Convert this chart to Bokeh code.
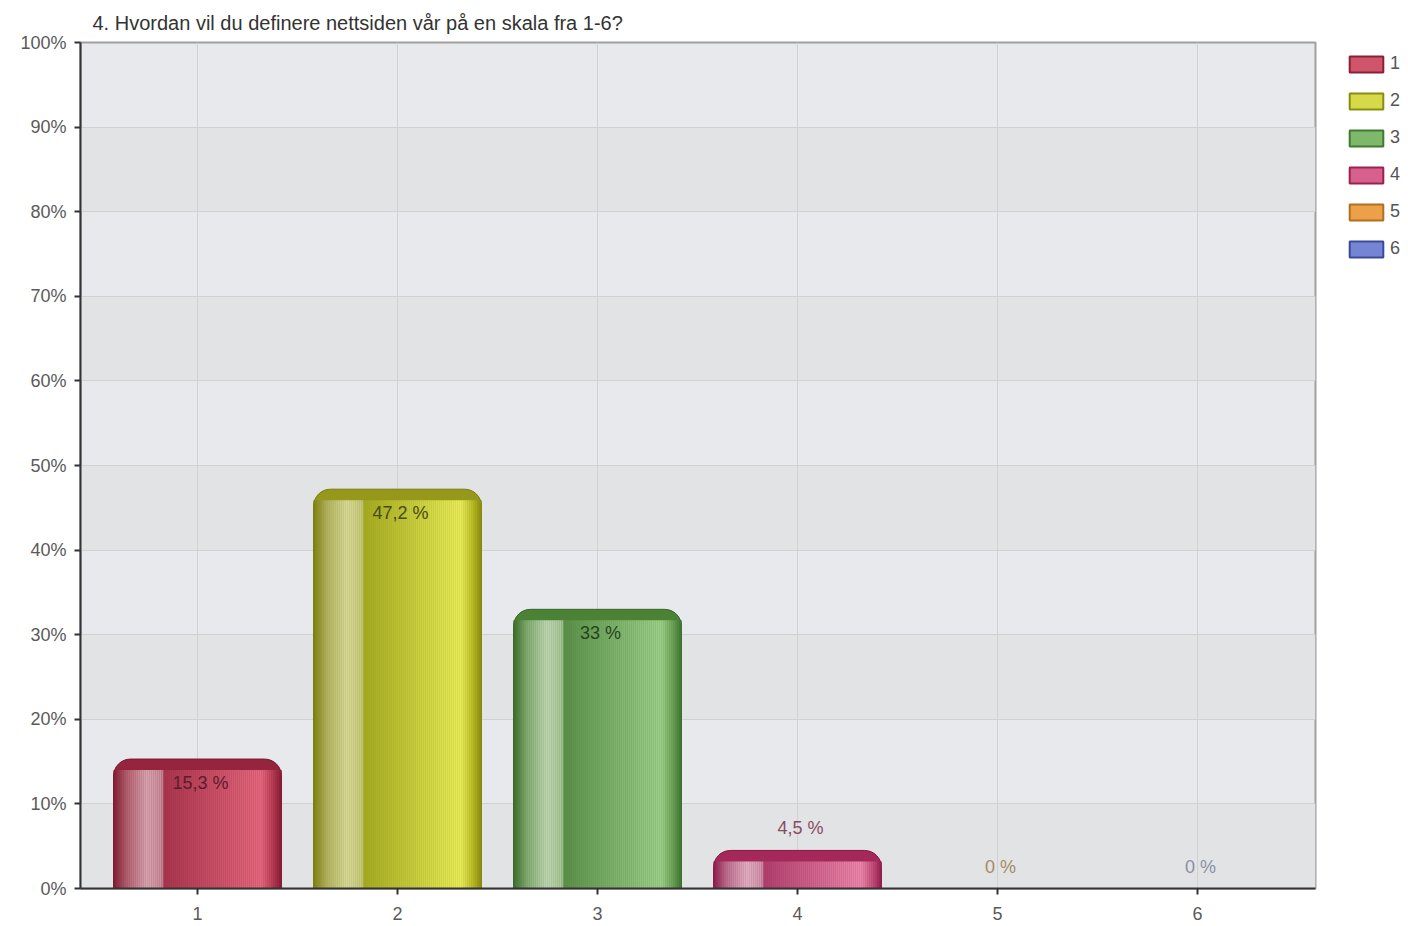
from bokeh.plotting import figure
from bokeh.layouts import row
from bokeh.models import Range1d, FixedTicker, PrintfTickFormatter, Legend, LegendItem, ColumnDataSource
from bokeh.core.properties import value
from bokeh.embed import file_html
from bokeh.resources import INLINE

# ---- data ----
TITLE = "4. Hvordan vil du definere nettsiden vår på en skala fra 1-6?"
CATEGORIES = ["1", "2", "3", "4", "5", "6"]
X_POS = [1, 2, 3, 4, 5, 6]
PERCENTS = [15.3, 47.2, 33.0, 4.5, 0.0, 0.0]
Y_TICKS = [0, 10, 20, 30, 40, 50, 60, 70, 80, 90, 100]

# ---- styles ----
FONT = "Liberation Sans"
GRADIENTS = [
    [(0.0, "#7e1a30"), (0.08, "#b0606f"), (0.2, "#d6a6b1"), (0.29, "#c48a97"), (0.30, "#a6344c"),
     (0.88, "#e4687e"), (0.95, "#b43a52"), (1.0, "#861a32")],
    [(0.0, "#7c7c0e"), (0.08, "#b0b060"), (0.2, "#d6d898"), (0.29, "#c4c67c"), (0.30, "#a2a820"),
     (0.88, "#e8ec58"), (0.95, "#b6b824"), (1.0, "#86880e")],
    [(0.0, "#3a6a28"), (0.08, "#80a870"), (0.2, "#c0d6b4"), (0.29, "#a6c496"), (0.30, "#5a8e48"),
     (0.88, "#9cd08a"), (0.95, "#6a9e54"), (1.0, "#3c7230")],
    [(0.0, "#8a1846"), (0.08, "#b8708e"), (0.2, "#e0b2c2"), (0.29, "#cc90a8"), (0.30, "#ae3e6c"),
     (0.88, "#ea88aa"), (0.95, "#c04c78"), (1.0, "#921c4c")],
    [(0.0, "#b06818"), (0.2, "#f0c890"), (0.3, "#d88a30"), (0.88, "#f4b060"), (1.0, "#b06818")],
    [(0.0, "#3a4a9a"), (0.2, "#b8c0e8"), (0.3, "#5a6ac0"), (0.88, "#8a98e0"), (1.0, "#3a4a9a")],
]
RIM_COLORS = ["#95253d", "#95981a", "#4c8236", "#a4285a", "#c07828", "#4a5ab0"]
EDGE_COLORS = ["#7a1a2e", "#7a7c0e", "#386628", "#861644", "#a06010", "#34449a"]
LEGEND_FILL = ["#d0546a", "#d6da48", "#7eb86a", "#d8608c", "#eca04a", "#7684d4"]
LEGEND_LINE = ["#8a1f36", "#8a8c10", "#3f7a30", "#9c2050", "#b07020", "#3a4a9a"]
LABEL_COLORS = ["#5a1c2b", "#4a4a12", "#24441c", "#8a4a64", "#a48c64", "#8a90a8"]

BAR_W = 0.84
PX_PER_UNIT_Y = 846 / 100.0
RIM = 11 / PX_PER_UNIT_Y
N_STRIPS = 84


def hex2rgb(h):
    h = h.lstrip("#")
    return tuple(int(h[i:i + 2], 16) for i in (0, 2, 4))


def grad_color(stops, t):
    for (p0, c0), (p1, c1) in zip(stops[:-1], stops[1:]):
        if p0 <= t <= p1:
            f = 0 if p1 == p0 else (t - p0) / (p1 - p0)
            a, b = hex2rgb(c0), hex2rgb(c1)
            return "#%02x%02x%02x" % tuple(int(round(a[k] + (b[k] - a[k]) * f)) for k in range(3))
    return stops[-1][1]


p = figure(width=1317, height=926, output_backend="svg", toolbar_location=None,
           x_range=Range1d(0.415, 6.59), y_range=Range1d(0, 100),
           min_border_left=80, min_border_right=2, min_border_top=42, min_border_bottom=38,
           background_fill_color="#e7e9ec", border_fill_color="white")

p.title.text = TITLE
p.title.text_font = FONT
p.title.text_font_size = "20px"
p.title.text_font_style = "normal"
p.title.text_color = "#333333"
p.title.align = "left"
p.title.offset = 12
p.title.standoff = 17

p.outline_line_color = "#a0a0a0"
p.outline_line_width = 2

# alternating background bands (drawn beneath the grid lines)
band_bottom = Y_TICKS[0:-1:2]
band_top = Y_TICKS[1::2]
p.quad(left=0.415, right=6.59, bottom=band_bottom, top=band_top,
       fill_color="#e2e3e5", line_color=None, level="image")

# grid
p.ygrid.ticker = FixedTicker(ticks=Y_TICKS)
p.ygrid.grid_line_color = "#d0d1d3"
p.xgrid.ticker = FixedTicker(ticks=X_POS)
p.xgrid.grid_line_color = "#d0d1d3"

# axes
p.yaxis.ticker = FixedTicker(ticks=Y_TICKS)
p.yaxis.formatter = PrintfTickFormatter(format="%d%%")
p.xaxis.ticker = FixedTicker(ticks=X_POS)
p.xaxis.major_label_overrides = {x: c for x, c in zip(X_POS, CATEGORIES)}
for ax in (p.xaxis, p.yaxis):
    ax.axis_line_color = "#333333"
    ax.axis_line_width = 2
    ax.major_tick_line_color = "#333333"
    ax.major_tick_line_width = 2
    ax.major_tick_out = 6
    ax.major_tick_in = 0
    ax.minor_tick_line_color = None
    ax.major_label_text_font = FONT
    ax.major_label_text_font_size = "18px"
    ax.major_label_text_color = "#5a5a5a"
p.yaxis.major_label_standoff = 8
p.xaxis.major_label_standoff = 12

# bars: rounded outer shape
for i, (x, v) in enumerate(zip(X_POS, PERCENTS)):
    if v <= 0:
        continue
    p.vbar(x=[x], top=[v], bottom=0, width=BAR_W, fill_color=RIM_COLORS[i],
           line_color=EDGE_COLORS[i], line_width=1, border_radius=(17, 17, 0, 0))

# bars: horizontal gradient strips below the rim
lefts, rights, tops, bottoms, colors = [], [], [], [], []
sw = BAR_W / N_STRIPS
for i, (x, v) in enumerate(zip(X_POS, PERCENTS)):
    top = v - RIM
    if top <= 0:
        continue
    x0 = x - BAR_W / 2
    for k in range(N_STRIPS):
        t = (k + 0.5) / N_STRIPS
        lefts.append(x0 + k * sw)
        rights.append(x0 + (k + 1) * sw + 0.001)
        tops.append(top)
        bottoms.append(0)
        colors.append(grad_color(GRADIENTS[i], t))
p.quad(left=lefts, right=rights, top=tops, bottom=bottoms, fill_color=colors, line_color=None)

# value labels
lab_x, lab_y, lab_t = [], [], []
for x, v in zip(X_POS, PERCENTS):
    lab_x.append(x + 0.015)
    lab_y.append(v - 24 / PX_PER_UNIT_Y if v > 10 else v + 22 / PX_PER_UNIT_Y)
    s = ("%g" % v).replace(".", ",")
    lab_t.append(s + " %")
src = ColumnDataSource(dict(x=lab_x, y=lab_y, t=lab_t, c=LABEL_COLORS))
p.text(x="x", y="y", text="t", text_color="c", source=src, text_align="center",
       text_baseline="middle", text_font=value(FONT), text_font_size="18px")

# legend in a narrow companion figure to the right
lg = figure(width=91, height=926, output_backend="svg", toolbar_location=None,
            x_range=Range1d(0.415, 6.59), y_range=Range1d(0, 100),
            min_border=0, outline_line_color=None, border_fill_color="white",
            background_fill_color="white")
lg.axis.visible = False
lg.grid.visible = False
items = []
for i, c in enumerate(CATEGORIES):
    r = lg.vbar(x=[X_POS[i]], top=[PERCENTS[i]], width=0.5, fill_color=LEGEND_FILL[i],
                line_color=LEGEND_LINE[i], line_width=2, visible=False)
    items.append(LegendItem(label=c, renderers=[r]))
legend = Legend(items=items, location=(28, 629), orientation="vertical",
                glyph_width=42, glyph_height=20, label_standoff=3, spacing=16,
                label_height=20, padding=0, margin=0, border_line_color=None,
                background_fill_alpha=0, inactive_fill_alpha=0,
                label_text_font=FONT, label_text_font_size="18px",
                label_text_color="#555555")
lg.add_layout(legend, "center")

layout = row(p, lg, spacing=0)
open("out.html", "w").write(file_html(layout, INLINE))
